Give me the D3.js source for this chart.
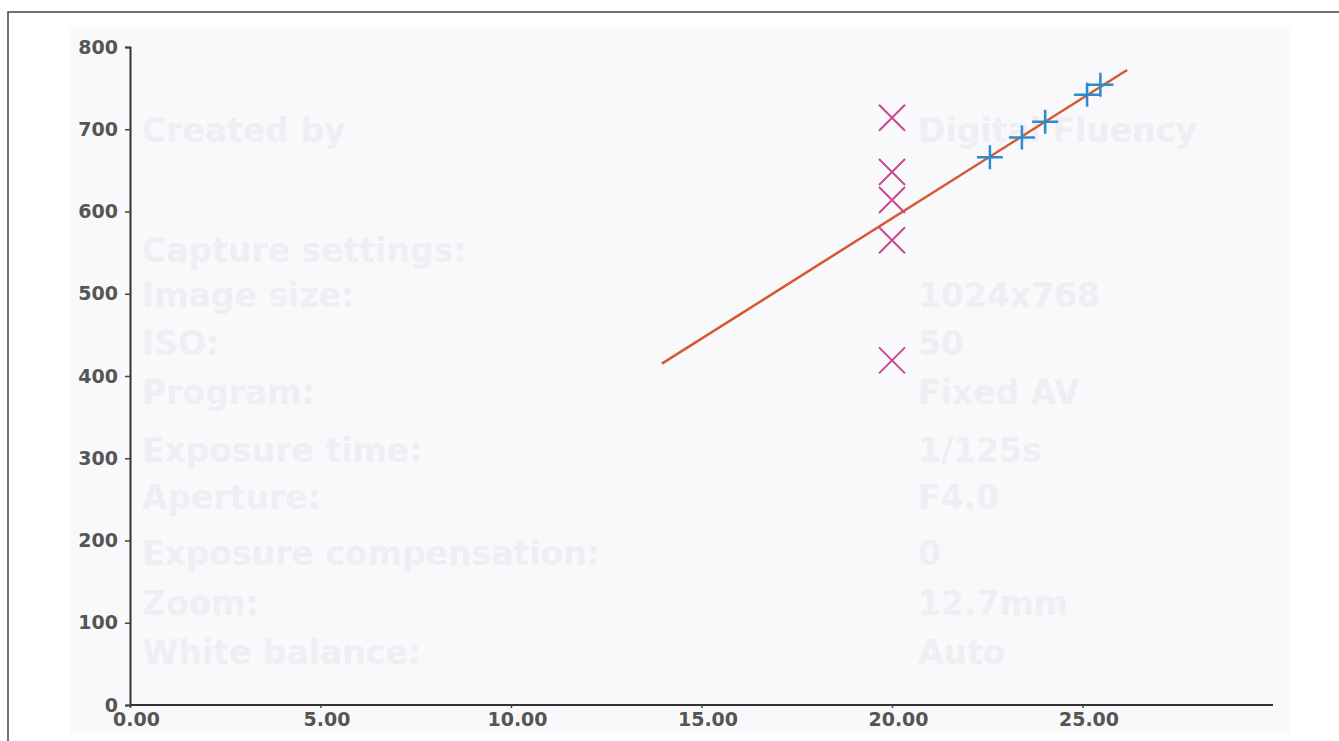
<!DOCTYPE html>
<html>
<head>
<meta charset="utf-8">
<script src="https://cdn.jsdelivr.net/npm/d3@7"></script>
<style>
body { margin: 0; background: #fff; }
svg { display: block; }
</style>
</head>
<body>
<div id="chart"></div>
<script>
// values
var xTicks = [0, 5, 10, 15, 20, 25];
var yTicks = [0, 100, 200, 300, 400, 500, 600, 700, 800];

// pink crosses, all at x = 20
var pinkX = [20, 20, 20, 20, 20];
var pinkY = [714, 648, 614, 565, 419];

// blue plus markers
var blueX = [22.57, 23.41, 24.02, 25.12, 25.47];
var blueY = [666, 690, 709, 742, 754];

// fitted line ends
var fitX = [13.96, 26.17];
var fitY = [415, 772];

// faint show-through text from the scanned page
var ghostLeft = ["Created by", "Capture settings:", "Image size:", "ISO:", "Program:",
  "Exposure time:", "Aperture:", "Exposure compensation:", "Zoom:", "White balance:"];
var ghostRight = ["Digital Fluency", "", "1024x768", "50", "Fixed AV",
  "1/125s", "F4.0", "0", "12.7mm", "Auto"];
var ghostRows = [130, 250, 295, 343, 392, 450, 497, 553, 603, 652];

var W = 1339, H = 741;

var svg = d3.select("#chart")
.append("svg")
.attr("width", W)
.attr("height", H);

// scanned paper area + frame
svg.append("rect")
.attr("x", 70).attr("y", 28).attr("width", 1220).attr("height", 705)
.attr("fill", "#f9f9fb");
svg.append("rect")
.attr("x", 8).attr("y", 12).attr("width", W + 20).attr("height", H + 20)
.attr("fill", "none").attr("stroke", "#444").attr("stroke-width", 1.5);

// ghost text
var ghost = svg.append("g")
.attr("font-family", "DejaVu Sans, sans-serif")
.attr("font-weight", "bold")
.attr("font-size", 33)
.attr("fill", "#eeeef3");
ghost.selectAll(".gl").data(ghostLeft).enter()
.append("text")
.attr("x", 142)
.attr("y", function(d, i){ return ghostRows[i] + 12; })
.text(function(d){ return d; });
ghost.selectAll(".gr").data(ghostRight).enter()
.append("text")
.attr("x", 918)
.attr("y", function(d, i){ return ghostRows[i] + 12; })
.text(function(d){ return d; });

var x = d3.scaleLinear()
.domain([0, 30])
.range([130, 1273]);

var y = d3.scaleLinear()
.domain([0, 800])
.range([705, 47]);

//add Y
var yAxis = svg.append("g")
.attr("transform", "translate(" + x(0) + ",0)")
.call(d3.axisLeft(y).tickValues(yTicks).tickFormat(d3.format("d")).tickSize(5).tickPadding(7));

//add X
var xAxis = svg.append("g")
.attr("transform", "translate(0," + y(0) + ")")
.call(d3.axisBottom(x).tickValues(xTicks).tickFormat(d3.format(".2f")).tickSize(3).tickPadding(5));
xAxis.select(".domain").attr("d", "M" + x(0) + ",0H" + x(30));
xAxis.selectAll(".tick text").attr("dx", 6);

[yAxis, xAxis].forEach(function(g){
  g.select(".domain").attr("stroke", "#333").attr("stroke-width", 2);
  g.selectAll(".tick line").attr("stroke", "#444").attr("stroke-width", 1.5);
  g.selectAll(".tick text")
  .attr("font-family", "DejaVu Sans, sans-serif")
  .attr("font-weight", "bold")
  .attr("font-size", 19)
  .attr("fill", "#555");
});

// fitted line
var line = d3.line()
.x(function(d){ return x(d[0]); })
.y(function(d){ return y(d[1]); });
svg.append("path")
.datum(d3.zip(fitX, fitY))
.attr("d", line)
.attr("fill", "none")
.attr("stroke", "#d5582e")
.attr("stroke-width", 2.5);

// pink crosses
var s = 13;
svg.append("g")
.selectAll("path")
.data(d3.zip(pinkX, pinkY))
.enter()
.append("path")
.attr("d", function(d){
  var cx = x(d[0]), cy = y(d[1]);
  return "M" + (cx - s) + "," + (cy - s) + "L" + (cx + s) + "," + (cy + s) +
         "M" + (cx - s) + "," + (cy + s) + "L" + (cx + s) + "," + (cy - s);
})
.attr("stroke", "#c9488f")
.attr("stroke-width", 2)
.attr("fill", "none");

// blue plus markers
svg.append("g")
.selectAll("path")
.data(d3.zip(blueX, blueY))
.enter()
.append("path")
.attr("d", function(d){
  var cx = x(d[0]), cy = y(d[1]);
  return "M" + (cx - 13) + "," + cy + "H" + (cx + 13) +
         "M" + cx + "," + (cy - 12) + "V" + (cy + 12);
})
.attr("stroke", "#2a8ccf")
.attr("stroke-width", 2.5)
.attr("fill", "none");
</script>
</body>
</html>
